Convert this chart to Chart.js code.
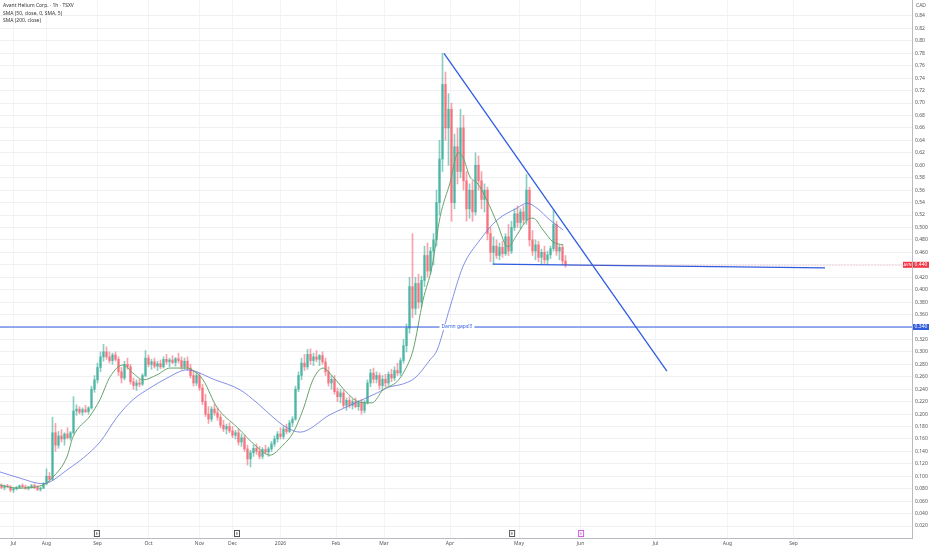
<!DOCTYPE html>
<html>
<head>
<meta charset="utf-8">
<script src="https://cdn.jsdelivr.net/npm/chart.js@4.4.1/dist/chart.umd.min.js"></script>
<style>
    html, body { margin: 0; padding: 0; background: #fff; }
    #wrap { position: relative; width: 932px; height: 550px; }
    #legend { position: absolute; left: 3px; top: 2px; font-family: "Noto Sans", sans-serif; font-size: 5px; line-height: 7.5px; color: #333; }
</style>
</head>
<body>
<div id="wrap">
    <canvas id="chart" width="932" height="550"></canvas>
    <div id="legend">
        <div>Avant Helium Corp. · 1h · TSXV</div>
        <div>SMA (50, close, 0, SMA, 5)</div>
        <div>SMA (200, close)</div>
    </div>
</div>
<script>
// Candles (one per bar index)
const opens = [
    .085,.082,.084,.083,.078,.080,.082,.085,.083,.081,.083,.085,.082,.079,.081,.088,.100,.095,.170,.150,
    .165,.160,.168,.162,.170,.205,.208,.203,.207,.204,.210,.240,.255,.275,.292,.300,.292,.286,.295,.288,
    .268,.258,.280,.276,.252,.246,.250,.248,.262,.290,.280,.284,.277,.281,.276,.288,.284,.287,.283,.289,
    .286,.276,.285,.274,.262,.250,.262,.242,.220,.200,.192,.208,.202,.195,.182,.176,.180,.173,.166,.170,
    .155,.162,.144,.128,.138,.145,.140,.132,.143,.139,.144,.152,.160,.168,.164,.176,.172,.186,.192,.240,
    .262,.282,.276,.296,.286,.292,.288,.294,.284,.268,.250,.256,.236,.228,.234,.214,.222,.214,.220,.212,
    .218,.206,.218,.250,.266,.256,.262,.246,.256,.250,.264,.258,.270,.266,.286,.310,.338,.405,.370,.410,
    .380,.415,.455,.430,.462,.480,.540,.610,.730,.660,.690,.540,.630,.590,.660,.575,.530,.560,.525,.600,
    .575,.545,.560,.490,.460,.470,.455,.468,.458,.485,.462,.500,.522,.508,.525,.512,.560,.480,.462,.472,
    .452,.460,.448,.456,.466,.505,.462,.468,.446
];
const highs = [
    .088,.086,.087,.085,.082,.084,.086,.088,.086,.084,.087,.088,.085,.083,.090,.112,.106,.195,.185,.172,
    .175,.170,.178,.172,.228,.215,.212,.210,.214,.212,.245,.262,.282,.300,.312,.308,.300,.298,.300,.292,
    .275,.285,.290,.280,.258,.255,.256,.265,.302,.295,.288,.290,.285,.287,.292,.296,.290,.294,.291,.298,
    .292,.290,.292,.280,.270,.268,.266,.248,.232,.212,.212,.216,.210,.200,.190,.184,.186,.180,.174,.176,
    .168,.166,.150,.142,.150,.152,.148,.146,.150,.147,.156,.165,.172,.178,.180,.184,.190,.196,.245,.268,
    .290,.296,.304,.305,.298,.302,.296,.300,.290,.276,.262,.262,.242,.240,.238,.226,.228,.224,.226,.222,
    .224,.222,.255,.272,.274,.268,.266,.262,.264,.268,.272,.276,.282,.290,.320,.345,.420,.490,.420,.425,
    .422,.470,.475,.468,.490,.560,.640,.780,.750,.715,.700,.650,.660,.690,.680,.590,.570,.575,.620,.615,
    .590,.570,.565,.500,.485,.480,.475,.478,.490,.505,.510,.530,.535,.530,.535,.585,.565,.495,.480,.478,
    .465,.470,.462,.470,.528,.510,.472,.472,.455
];
const lows = [
    .080,.078,.082,.075,.074,.078,.080,.082,.079,.078,.081,.080,.077,.076,.080,.086,.092,.094,.140,.145,
    .155,.150,.160,.158,.168,.198,.200,.198,.202,.200,.208,.235,.250,.268,.285,.288,.282,.280,.285,.262,
    .250,.255,.272,.248,.240,.238,.244,.246,.260,.276,.272,.274,.270,.273,.274,.280,.276,.281,.277,.282,
    .272,.272,.270,.258,.245,.246,.238,.215,.196,.185,.188,.198,.190,.178,.172,.168,.170,.162,.160,.150,
    .148,.140,.118,.115,.132,.135,.128,.128,.136,.132,.140,.148,.155,.160,.160,.168,.170,.180,.190,.236,
    .255,.270,.272,.280,.278,.284,.278,.280,.262,.245,.240,.232,.220,.218,.210,.206,.210,.208,.210,.206,
    .200,.202,.216,.244,.250,.250,.240,.238,.244,.246,.252,.254,.262,.262,.282,.300,.330,.355,.360,.370,
    .372,.405,.420,.425,.440,.470,.520,.590,.640,.600,.510,.530,.570,.580,.560,.510,.515,.510,.520,.560,
    .530,.525,.480,.445,.440,.450,.448,.452,.455,.455,.458,.495,.500,.498,.505,.505,.470,.455,.448,.445,
    .440,.442,.440,.450,.462,.455,.448,.440,.436
];
const closes = [
    .082,.084,.083,.078,.080,.082,.085,.083,.081,.083,.085,.082,.079,.081,.088,.100,.095,.170,.150,.165,
    .160,.168,.162,.170,.205,.208,.203,.207,.204,.210,.240,.255,.275,.292,.300,.292,.286,.295,.288,.268,
    .258,.280,.276,.252,.246,.250,.248,.262,.290,.280,.284,.277,.281,.276,.288,.284,.287,.283,.289,.286,
    .276,.285,.274,.262,.250,.262,.242,.220,.200,.192,.208,.202,.195,.182,.176,.180,.173,.166,.170,.155,
    .162,.144,.128,.138,.145,.140,.132,.143,.139,.144,.152,.160,.168,.164,.176,.172,.186,.192,.240,.262,
    .282,.276,.296,.286,.292,.288,.294,.284,.268,.250,.256,.236,.228,.234,.214,.222,.214,.220,.212,.218,
    .206,.218,.250,.266,.256,.262,.246,.256,.250,.264,.258,.270,.266,.286,.310,.338,.405,.370,.410,.380,
    .415,.455,.430,.462,.480,.540,.610,.730,.660,.690,.540,.630,.590,.660,.575,.530,.560,.525,.600,.575,
    .545,.560,.490,.460,.470,.455,.468,.458,.485,.462,.500,.522,.508,.525,.512,.560,.480,.462,.472,.452,
    .460,.448,.456,.466,.505,.462,.468,.446,.440
];

// Moving averages at sample bars
const sma50X = [-0.5, 5.2, 13.8, 17.2, 21.8, 23.8, 29.5, 32.8, 36.2, 40.5, 43.8, 47.2, 51.8, 56.2, 61.8, 64.5, 67.2, 71.8, 78.5, 85.2, 89.5, 93.8, 97.2, 100.5, 103.8, 107.2, 110.5, 115.2, 119.5, 123.5, 127.2, 131.8, 134.5, 137.2, 140.5, 143.5, 146.2, 149.5, 152.2, 153.8, 156.2, 158.5, 161.8, 165.2, 168.8, 171.8, 175.2, 177.2, 180.5, 183.8, 187.2];
const sma50Y = [0.086, 0.081, 0.086, 0.099, 0.131, 0.163, 0.197, 0.223, 0.260, 0.279, 0.266, 0.255, 0.263, 0.274, 0.274, 0.268, 0.255, 0.211, 0.179, 0.147, 0.134, 0.150, 0.170, 0.207, 0.255, 0.274, 0.260, 0.234, 0.219, 0.218, 0.239, 0.252, 0.271, 0.303, 0.383, 0.437, 0.517, 0.572, 0.620, 0.613, 0.581, 0.572, 0.544, 0.507, 0.469, 0.488, 0.512, 0.515, 0.496, 0.477, 0.472];
const sma200X = [-0.5, 6.2, 13.8, 21.8, 32.8, 38.5, 43.8, 49.5, 55.2, 61.8, 71.2, 79.5, 85.2, 90.5, 94.5, 99.5, 109.5, 118.5, 125.2, 129.5, 132.8, 137.8, 142.8, 145.2, 149.5, 153.8, 159.5, 165.2, 171.8, 175.2, 178.5, 182.8, 187.2];
const sma200Y = [0.107, 0.097, 0.088, 0.110, 0.155, 0.195, 0.223, 0.242, 0.258, 0.271, 0.255, 0.239, 0.218, 0.195, 0.180, 0.171, 0.199, 0.219, 0.234, 0.244, 0.247, 0.258, 0.287, 0.303, 0.372, 0.437, 0.480, 0.512, 0.531, 0.539, 0.531, 0.512, 0.496];

// Drawings (bar index, price)
const downTrendX = [147.5, 221.8];
const downTrendY = [0.780, 0.269];
const supportX = [163.8, 274.5];
const supportY = [0.441, 0.435];
const gapLevel = 0.34;
const lastPrice = 0.44;

// Axes
const monthPos = [4, 15, 32, 49, 66, 77, 93, 111.5, 127.5, 149.5, 172.5, 193, 218, 242, 264];
const monthLabels = ['Jul', 'Aug', 'Sep', 'Oct', 'Nov', 'Dec', '2026', 'Feb', 'Mar', 'Apr', 'May', 'Jun', 'Jul', 'Aug', 'Sep'];
const yTicks = [0.02, 0.04, 0.06, 0.08, 0.10, 0.12, 0.14, 0.16, 0.18, 0.20, 0.22, 0.24, 0.26, 0.28, 0.30, 0.32, 0.34, 0.36, 0.38, 0.40, 0.42, 0.44, 0.46, 0.48, 0.50, 0.52, 0.54, 0.56, 0.58, 0.60, 0.62, 0.64, 0.66, 0.68, 0.70, 0.72, 0.74, 0.76, 0.78, 0.80, 0.82, 0.84];
const earningsPos = [31.8, 78.5, 170.2, 193.2];

const UP = 'rgba(8,153,129,0.48)';
const DOWN = 'rgba(242,54,69,0.45)';
const LINE_BLUE = '#2f5de0';
const FONT = '"Noto Sans", sans-serif';

const candleColors = closes.map((c, i) => c >= opens[i] ? UP : DOWN);

// Overlay: labels on the price axis, notes, earnings marks
const overlay = {
    id: 'overlay',
    afterDraw(chart) {
        const { ctx, chartArea, scales: { x, y } } = chart;
        ctx.save();
        ctx.font = '5px ' + FONT;
        ctx.textBaseline = 'middle';

        // gap note on the horizontal level
        const gy = y.getPixelForValue(gapLevel);
        const gx = x.getPixelForValue(151.8);
        const note = 'Damn gaps!!!';
        const nw = ctx.measureText(note).width;
        ctx.fillStyle = '#fff';
        ctx.fillRect(gx - nw / 2 - 2, gy - 3, nw + 4, 6);
        ctx.fillStyle = LINE_BLUE;
        ctx.textAlign = 'center';
        ctx.fillText(note, gx, gy);

        // last price dotted line
        const py = y.getPixelForValue(lastPrice);
        ctx.strokeStyle = 'rgba(242,54,69,0.4)';
        ctx.lineWidth = 1;
        ctx.setLineDash([1, 2]);
        ctx.beginPath();
        ctx.moveTo(x.getPixelForValue(closes.length - 1), py + 0.5);
        ctx.lineTo(chartArea.right, py + 0.5);
        ctx.stroke();
        ctx.setLineDash([]);

        // price axis tags
        ctx.fillStyle = '#f23645';
        ctx.fillRect(chartArea.right - 9, py - 3, 9, 6);
        ctx.fillRect(chartArea.right + 1, py - 3, 16, 6);
        ctx.fillStyle = '#fff';
        ctx.font = '4px ' + FONT;
        ctx.fillText('AVN', chartArea.right - 4.5, py);
        ctx.font = '5px ' + FONT;
        ctx.fillText(lastPrice.toFixed(3), chartArea.right + 9, py);

        ctx.fillStyle = LINE_BLUE;
        ctx.fillRect(chartArea.right + 1, gy - 3, 16, 6);
        ctx.fillStyle = '#fff';
        ctx.fillText(gapLevel.toFixed(3), chartArea.right + 9, gy);

        // currency
        ctx.fillStyle = '#555';
        ctx.fillText('CAD', chartArea.right + 9, 6);

        // earnings marks
        earningsPos.forEach((pos, i) => {
            const ex = x.getPixelForValue(pos);
            const last = i === earningsPos.length - 1;
            ctx.strokeStyle = last ? '#d65ce6' : '#555';
            ctx.fillStyle = '#fff';
            ctx.fillRect(ex - 3, chartArea.bottom - 8, 6, 7);
            ctx.strokeRect(ex - 2.5, chartArea.bottom - 7.5, 5, 6);
            ctx.fillStyle = last ? '#d65ce6' : '#444';
            ctx.font = '4px ' + FONT;
            ctx.fillText('E', ex, chartArea.bottom - 4.5);
        });
        ctx.restore();
    }
};

const points = (xsArr, ysArr) => xsArr.map((v, i) => ({ x: v, y: ysArr[i] }));

new Chart(document.getElementById('chart'), {
    type: 'bar',
    data: {
        datasets: [
            {
                type: 'line',
                data: points(downTrendX, downTrendY),
                borderColor: LINE_BLUE,
                borderWidth: 1.3,
                pointRadius: 0,
                order: 0
            },
            {
                type: 'line',
                data: points(supportX, supportY),
                borderColor: LINE_BLUE,
                borderWidth: 1.3,
                pointRadius: 0,
                order: 0
            },
            {
                type: 'line',
                data: points([-0.5, 303.5], [gapLevel, gapLevel]),
                borderColor: LINE_BLUE,
                borderWidth: 1.1,
                pointRadius: 0,
                order: 0
            },
            {
                type: 'line',
                data: points(sma50X, sma50Y),
                borderColor: '#66a36a',
                borderWidth: 1,
                pointRadius: 0,
                cubicInterpolationMode: 'monotone',
                order: 1
            },
            {
                type: 'line',
                data: points(sma200X, sma200Y),
                borderColor: '#6673e0',
                borderWidth: 0.8,
                pointRadius: 0,
                cubicInterpolationMode: 'monotone',
                order: 1
            },
            {
                data: closes.map((c, i) => ({ x: i, y: [opens[i], c] })),
                backgroundColor: candleColors,
                barThickness: 2,
                minBarLength: 1,
                grouped: false,
                order: 2
            },
            {
                data: closes.map((c, i) => ({ x: i, y: [lows[i], highs[i]] })),
                backgroundColor: candleColors,
                barThickness: 1,
                grouped: false,
                order: 3
            }
        ]
    },
    options: {
        responsive: false,
        animation: false,
        layout: { padding: 0 },
        plugins: {
            legend: { display: false },
            tooltip: { enabled: false }
        },
        scales: {
            x: {
                type: 'linear',
                min: -0.5,
                max: 303.5,
                offset: false,
                grid: { color: '#f3f4f6', offset: false, drawTicks: false },
                border: { display: true, color: '#b8bbc2' },
                afterBuildTicks: scale => { scale.ticks = monthPos.map(v => ({ value: v })); },
                afterFit: scale => { scale.height = 12; scale.paddingLeft = 0; scale.paddingRight = 0; },
                ticks: {
                    autoSkip: false,
                    maxRotation: 0,
                    padding: 3,
                    color: '#555',
                    font: { size: 5, family: FONT },
                    callback: (v, idx) => monthLabels[idx]
                }
            },
            y: {
                position: 'right',
                min: 0.0008,
                max: 0.8657,
                grid: { color: '#eef0f3', drawTicks: false },
                border: { display: true, color: '#b8bbc2' },
                afterBuildTicks: scale => { scale.ticks = yTicks.map(v => ({ value: v })); },
                afterFit: scale => { scale.width = 20; scale.paddingTop = 0; scale.paddingBottom = 0; },
                ticks: {
                    padding: 3,
                    color: '#555',
                    font: { size: 5, family: FONT },
                    callback: v => v > 0.51 ? v.toFixed(2) : v.toFixed(3)
                }
            }
        }
    },
    plugins: [overlay]
});
</script>
</body>
</html>
